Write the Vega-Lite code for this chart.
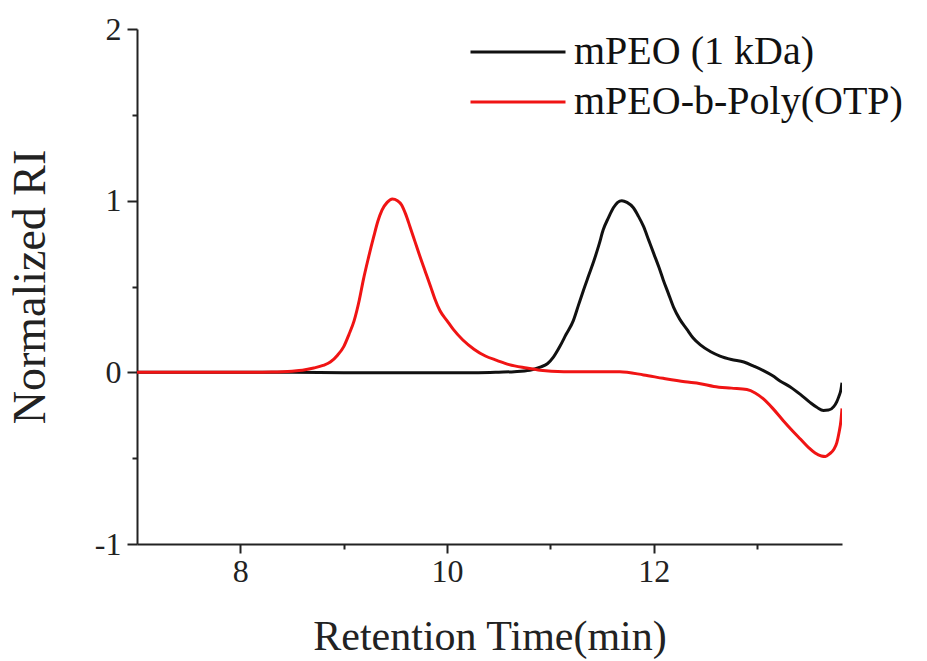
{
  "$schema": "https://vega.github.io/schema/vega-lite/v6.json",
  "width": 705,
  "height": 515,
  "autosize": "none",
  "padding": {"left": 137, "top": 29, "right": 85, "bottom": 117},
  "background": "white",
  "config": {
    "view": {"stroke": null},
    "font": "Liberation Serif"
  },
  "data": {"values": [
    {"t":7.0,"v":0,"s":"mPEO (1 kDa)"},{"t":7.5,"v":0,"s":"mPEO (1 kDa)"},{"t":8.0,"v":0.001,"s":"mPEO (1 kDa)"},{"t":8.5,"v":0,"s":"mPEO (1 kDa)"},{"t":9.0,"v":-0.002,"s":"mPEO (1 kDa)"},{"t":9.5,"v":-0.002,"s":"mPEO (1 kDa)"},{"t":10.0,"v":-0.003,"s":"mPEO (1 kDa)"},{"t":10.3,"v":-0.002,"s":"mPEO (1 kDa)"},{"t":10.5,"v":0.001,"s":"mPEO (1 kDa)"},{"t":10.65,"v":0.004,"s":"mPEO (1 kDa)"},{"t":10.8,"v":0.012,"s":"mPEO (1 kDa)"},{"t":10.9,"v":0.03,"s":"mPEO (1 kDa)"},{"t":10.97,"v":0.05,"s":"mPEO (1 kDa)"},{"t":11.03,"v":0.09,"s":"mPEO (1 kDa)"},{"t":11.09,"v":0.15,"s":"mPEO (1 kDa)"},{"t":11.15,"v":0.22,"s":"mPEO (1 kDa)"},{"t":11.22,"v":0.30,"s":"mPEO (1 kDa)"},{"t":11.27,"v":0.39,"s":"mPEO (1 kDa)"},{"t":11.32,"v":0.48,"s":"mPEO (1 kDa)"},{"t":11.37,"v":0.565,"s":"mPEO (1 kDa)"},{"t":11.42,"v":0.65,"s":"mPEO (1 kDa)"},{"t":11.47,"v":0.745,"s":"mPEO (1 kDa)"},{"t":11.51,"v":0.83,"s":"mPEO (1 kDa)"},{"t":11.56,"v":0.90,"s":"mPEO (1 kDa)"},{"t":11.61,"v":0.96,"s":"mPEO (1 kDa)"},{"t":11.65,"v":0.99,"s":"mPEO (1 kDa)"},{"t":11.69,"v":1.0,"s":"mPEO (1 kDa)"},{"t":11.74,"v":0.99,"s":"mPEO (1 kDa)"},{"t":11.80,"v":0.96,"s":"mPEO (1 kDa)"},{"t":11.85,"v":0.91,"s":"mPEO (1 kDa)"},{"t":11.90,"v":0.85,"s":"mPEO (1 kDa)"},{"t":11.95,"v":0.77,"s":"mPEO (1 kDa)"},{"t":12.0,"v":0.69,"s":"mPEO (1 kDa)"},{"t":12.05,"v":0.61,"s":"mPEO (1 kDa)"},{"t":12.09,"v":0.54,"s":"mPEO (1 kDa)"},{"t":12.14,"v":0.46,"s":"mPEO (1 kDa)"},{"t":12.19,"v":0.38,"s":"mPEO (1 kDa)"},{"t":12.25,"v":0.31,"s":"mPEO (1 kDa)"},{"t":12.32,"v":0.25,"s":"mPEO (1 kDa)"},{"t":12.38,"v":0.20,"s":"mPEO (1 kDa)"},{"t":12.45,"v":0.16,"s":"mPEO (1 kDa)"},{"t":12.55,"v":0.12,"s":"mPEO (1 kDa)"},{"t":12.64,"v":0.095,"s":"mPEO (1 kDa)"},{"t":12.75,"v":0.075,"s":"mPEO (1 kDa)"},{"t":12.87,"v":0.06,"s":"mPEO (1 kDa)"},{"t":12.97,"v":0.035,"s":"mPEO (1 kDa)"},{"t":13.06,"v":0.01,"s":"mPEO (1 kDa)"},{"t":13.15,"v":-0.02,"s":"mPEO (1 kDa)"},{"t":13.22,"v":-0.05,"s":"mPEO (1 kDa)"},{"t":13.32,"v":-0.085,"s":"mPEO (1 kDa)"},{"t":13.42,"v":-0.13,"s":"mPEO (1 kDa)"},{"t":13.51,"v":-0.175,"s":"mPEO (1 kDa)"},{"t":13.58,"v":-0.205,"s":"mPEO (1 kDa)"},{"t":13.64,"v":-0.222,"s":"mPEO (1 kDa)"},{"t":13.69,"v":-0.22,"s":"mPEO (1 kDa)"},{"t":13.74,"v":-0.20,"s":"mPEO (1 kDa)"},{"t":13.77,"v":-0.17,"s":"mPEO (1 kDa)"},{"t":13.79,"v":-0.14,"s":"mPEO (1 kDa)"},{"t":13.81,"v":-0.10,"s":"mPEO (1 kDa)"},{"t":13.82,"v":-0.06,"s":"mPEO (1 kDa)"},
    {"t":7.0,"v":0,"s":"mPEO-b-Poly(OTP)"},{"t":7.5,"v":0,"s":"mPEO-b-Poly(OTP)"},{"t":8.0,"v":0,"s":"mPEO-b-Poly(OTP)"},{"t":8.3,"v":0.002,"s":"mPEO-b-Poly(OTP)"},{"t":8.5,"v":0.007,"s":"mPEO-b-Poly(OTP)"},{"t":8.6,"v":0.012,"s":"mPEO-b-Poly(OTP)"},{"t":8.71,"v":0.025,"s":"mPEO-b-Poly(OTP)"},{"t":8.8,"v":0.04,"s":"mPEO-b-Poly(OTP)"},{"t":8.87,"v":0.06,"s":"mPEO-b-Poly(OTP)"},{"t":8.94,"v":0.10,"s":"mPEO-b-Poly(OTP)"},{"t":9.0,"v":0.15,"s":"mPEO-b-Poly(OTP)"},{"t":9.05,"v":0.22,"s":"mPEO-b-Poly(OTP)"},{"t":9.10,"v":0.30,"s":"mPEO-b-Poly(OTP)"},{"t":9.15,"v":0.42,"s":"mPEO-b-Poly(OTP)"},{"t":9.19,"v":0.54,"s":"mPEO-b-Poly(OTP)"},{"t":9.24,"v":0.67,"s":"mPEO-b-Poly(OTP)"},{"t":9.29,"v":0.79,"s":"mPEO-b-Poly(OTP)"},{"t":9.33,"v":0.88,"s":"mPEO-b-Poly(OTP)"},{"t":9.37,"v":0.945,"s":"mPEO-b-Poly(OTP)"},{"t":9.42,"v":0.99,"s":"mPEO-b-Poly(OTP)"},{"t":9.47,"v":1.01,"s":"mPEO-b-Poly(OTP)"},{"t":9.52,"v":1.0,"s":"mPEO-b-Poly(OTP)"},{"t":9.56,"v":0.975,"s":"mPEO-b-Poly(OTP)"},{"t":9.60,"v":0.92,"s":"mPEO-b-Poly(OTP)"},{"t":9.64,"v":0.85,"s":"mPEO-b-Poly(OTP)"},{"t":9.69,"v":0.76,"s":"mPEO-b-Poly(OTP)"},{"t":9.74,"v":0.67,"s":"mPEO-b-Poly(OTP)"},{"t":9.79,"v":0.585,"s":"mPEO-b-Poly(OTP)"},{"t":9.84,"v":0.50,"s":"mPEO-b-Poly(OTP)"},{"t":9.88,"v":0.43,"s":"mPEO-b-Poly(OTP)"},{"t":9.93,"v":0.36,"s":"mPEO-b-Poly(OTP)"},{"t":10.0,"v":0.30,"s":"mPEO-b-Poly(OTP)"},{"t":10.06,"v":0.25,"s":"mPEO-b-Poly(OTP)"},{"t":10.15,"v":0.19,"s":"mPEO-b-Poly(OTP)"},{"t":10.26,"v":0.135,"s":"mPEO-b-Poly(OTP)"},{"t":10.37,"v":0.095,"s":"mPEO-b-Poly(OTP)"},{"t":10.48,"v":0.07,"s":"mPEO-b-Poly(OTP)"},{"t":10.6,"v":0.045,"s":"mPEO-b-Poly(OTP)"},{"t":10.77,"v":0.025,"s":"mPEO-b-Poly(OTP)"},{"t":10.9,"v":0.012,"s":"mPEO-b-Poly(OTP)"},{"t":11.13,"v":0.004,"s":"mPEO-b-Poly(OTP)"},{"t":11.4,"v":0.003,"s":"mPEO-b-Poly(OTP)"},{"t":11.67,"v":0.003,"s":"mPEO-b-Poly(OTP)"},{"t":11.9,"v":-0.015,"s":"mPEO-b-Poly(OTP)"},{"t":12.09,"v":-0.035,"s":"mPEO-b-Poly(OTP)"},{"t":12.3,"v":-0.055,"s":"mPEO-b-Poly(OTP)"},{"t":12.45,"v":-0.066,"s":"mPEO-b-Poly(OTP)"},{"t":12.58,"v":-0.082,"s":"mPEO-b-Poly(OTP)"},{"t":12.75,"v":-0.092,"s":"mPEO-b-Poly(OTP)"},{"t":12.9,"v":-0.10,"s":"mPEO-b-Poly(OTP)"},{"t":12.98,"v":-0.12,"s":"mPEO-b-Poly(OTP)"},{"t":13.06,"v":-0.155,"s":"mPEO-b-Poly(OTP)"},{"t":13.15,"v":-0.21,"s":"mPEO-b-Poly(OTP)"},{"t":13.25,"v":-0.28,"s":"mPEO-b-Poly(OTP)"},{"t":13.34,"v":-0.34,"s":"mPEO-b-Poly(OTP)"},{"t":13.42,"v":-0.39,"s":"mPEO-b-Poly(OTP)"},{"t":13.5,"v":-0.44,"s":"mPEO-b-Poly(OTP)"},{"t":13.56,"v":-0.47,"s":"mPEO-b-Poly(OTP)"},{"t":13.62,"v":-0.487,"s":"mPEO-b-Poly(OTP)"},{"t":13.66,"v":-0.49,"s":"mPEO-b-Poly(OTP)"},{"t":13.70,"v":-0.475,"s":"mPEO-b-Poly(OTP)"},{"t":13.74,"v":-0.45,"s":"mPEO-b-Poly(OTP)"},{"t":13.77,"v":-0.41,"s":"mPEO-b-Poly(OTP)"},{"t":13.79,"v":-0.355,"s":"mPEO-b-Poly(OTP)"},{"t":13.81,"v":-0.28,"s":"mPEO-b-Poly(OTP)"},{"t":13.82,"v":-0.21,"s":"mPEO-b-Poly(OTP)"}
  ]},
  "mark": {"type": "line", "strokeWidth": 3, "interpolate": "monotone", "clip": true},
  "encoding": {
    "x": {"field": "t", "type": "quantitative", "scale": {"domain": [7, 13.82], "nice": false, "zero": false},
      "axis": {"title": "Retention Time(min)", "values": [8, 9, 10, 11, 12, 13], "grid": false,
        "domainColor": "#222", "domainWidth": 2, "tickColor": "#222", "tickWidth": 2,
        "labelFont": "Liberation Serif", "labelFontSize": 32, "labelColor": "#222",
        "titleFont": "Liberation Serif", "titleFontSize": 42, "titleFontWeight": "normal", "titleColor": "#222",
        "labelExpr": "datum.value % 2 === 0 ? datum.label : ''",
        "tickSize": {"condition": {"test": "datum.value % 2 === 0", "value": 9}, "value": 5},
        "labelPadding": 3, "titlePadding": 29}},
    "y": {"field": "v", "type": "quantitative", "scale": {"domain": [-1, 2], "nice": false, "zero": false},
      "axis": {"title": "Normalized RI", "values": [-1, -0.5, 0, 0.5, 1, 1.5, 2], "grid": false,
        "domainColor": "#222", "domainWidth": 2, "tickColor": "#222", "tickWidth": 2,
        "labelFont": "Liberation Serif", "labelFontSize": 32, "labelColor": "#222",
        "titleFont": "Liberation Serif", "titleFontSize": 46, "titleFontWeight": "normal", "titleColor": "#222",
        "labelExpr": "datum.value % 1 === 0 ? toString(datum.value) : ''",
        "tickSize": {"condition": {"test": "datum.value % 1 === 0", "value": 10}, "value": 5},
        "labelPadding": 6, "titlePadding": 40}},
    "color": {"field": "s", "type": "nominal",
      "scale": {"domain": ["mPEO (1 kDa)", "mPEO-b-Poly(OTP)"], "range": ["#111111", "#f01414"]},
      "legend": {"title": null, "orient": "none", "legendX": 361, "legendY": 3,
        "symbolType": "M-3,0H3", "symbolSize": 1003, "symbolStrokeWidth": 3,
        "labelFont": "Liberation Serif", "labelFontSize": 40, "labelColor": "#111", "labelOffset": 36, "labelLimit": 500, "rowPadding": 10}}
  }
}
